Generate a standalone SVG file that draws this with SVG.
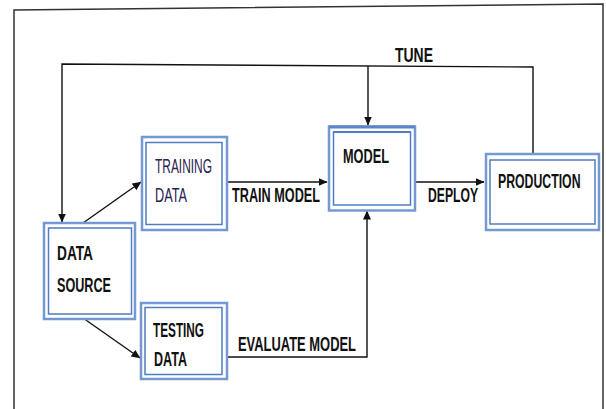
<svg xmlns="http://www.w3.org/2000/svg" width="606" height="409" viewBox="0 0 606 409">
<style>
.frame{fill:none;stroke:#333;stroke-width:1.5}
.bo{fill:#fff;stroke:#7499d2;stroke-width:2.5}
.bi{fill:none;stroke:#4f7cc2;stroke-width:1.5}
.c{fill:none;stroke:#111;stroke-width:1.4}
.t{font-family:"Liberation Sans",Arial,sans-serif;font-size:19.5px;font-weight:bold;fill:#111}
.tl{font-family:"Liberation Sans",Arial,sans-serif;font-size:19.5px;fill:#2a2350}
</style>
<defs>
<marker id="ah" markerWidth="9" markerHeight="8" refX="8.5" refY="4" orient="auto" markerUnits="userSpaceOnUse">
<path d="M0,0 L9,4 L0,8 Z" fill="#111"/>
</marker>
</defs>
<rect width="606" height="409" fill="#fff"/>
<path class="frame" d="M14,409 L14,10 L603,4 L603,409"/>
<g id="connectors">
<path class="c" d="M533,154 L533,67 L62,64 L62,222" marker-end="url(#ah)"/>
<path class="c" d="M368,66 L368,125" marker-end="url(#ah)"/>
<path class="c" d="M83,223 L141,182" marker-end="url(#ah)"/>
<path class="c" d="M227,182 L327,182" marker-end="url(#ah)"/>
<path class="c" d="M415,182 L484,182" marker-end="url(#ah)"/>
<path class="c" d="M83,318 L140,358" marker-end="url(#ah)"/>
<path class="c" d="M227,357 L367,357 L367,211" marker-end="url(#ah)"/>
<text class="t" x="395" y="62" textLength="38" lengthAdjust="spacingAndGlyphs">TUNE</text>
<text class="t" x="232" y="202" textLength="88" lengthAdjust="spacingAndGlyphs">TRAIN MODEL</text>
<text class="t" x="428" y="202" textLength="50" lengthAdjust="spacingAndGlyphs">DEPLOY</text>
<text class="t" x="238" y="351" textLength="118" lengthAdjust="spacingAndGlyphs">EVALUATE MODEL</text>
</g>
<g id="data-source">
<rect class="bo" x="44" y="223" width="91" height="96"/>
<rect class="bi" x="48.5" y="228" width="83" height="86"/>
<text class="t" x="57" y="260" textLength="36" lengthAdjust="spacingAndGlyphs">DATA</text>
<text class="t" x="57" y="292" textLength="54" lengthAdjust="spacingAndGlyphs">SOURCE</text>
</g>
<g id="training-data">
<rect class="bo" x="142" y="137" width="85" height="93"/>
<rect class="bi" x="146" y="142.5" width="76" height="82"/>
<text class="tl" x="155" y="173" textLength="57" lengthAdjust="spacingAndGlyphs">TRAINING</text>
<text class="tl" x="155" y="202" textLength="32" lengthAdjust="spacingAndGlyphs">DATA</text>
</g>
<g id="testing-data">
<rect class="bo" x="141" y="303" width="86" height="76"/>
<rect class="bi" x="145" y="307.5" width="77" height="67"/>
<text class="t" x="153" y="337" textLength="51" lengthAdjust="spacingAndGlyphs">TESTING</text>
<text class="t" x="154" y="366" textLength="33" lengthAdjust="spacingAndGlyphs">DATA</text>
</g>
<g id="model">
<rect class="bo" x="329" y="126.5" width="86" height="84"/>
<line x1="329" y1="127" x2="415" y2="127" stroke="#5a86c8" stroke-width="3"/>
<rect class="bi" x="333.5" y="132" width="77" height="73"/>
<line x1="333.5" y1="132" x2="410.5" y2="132" stroke="#4f7cc2" stroke-width="2.2"/>
<text class="t" x="343" y="163" textLength="46" lengthAdjust="spacingAndGlyphs">MODEL</text>
</g>
<g id="production">
<rect class="bo" x="486" y="154" width="113" height="76"/>
<rect class="bi" x="490" y="160" width="105" height="64"/>
<text class="t" transform="translate(498,188) scale(0.63,1)" x="0" y="0">PRODUCTION</text>
</g>
</svg>
